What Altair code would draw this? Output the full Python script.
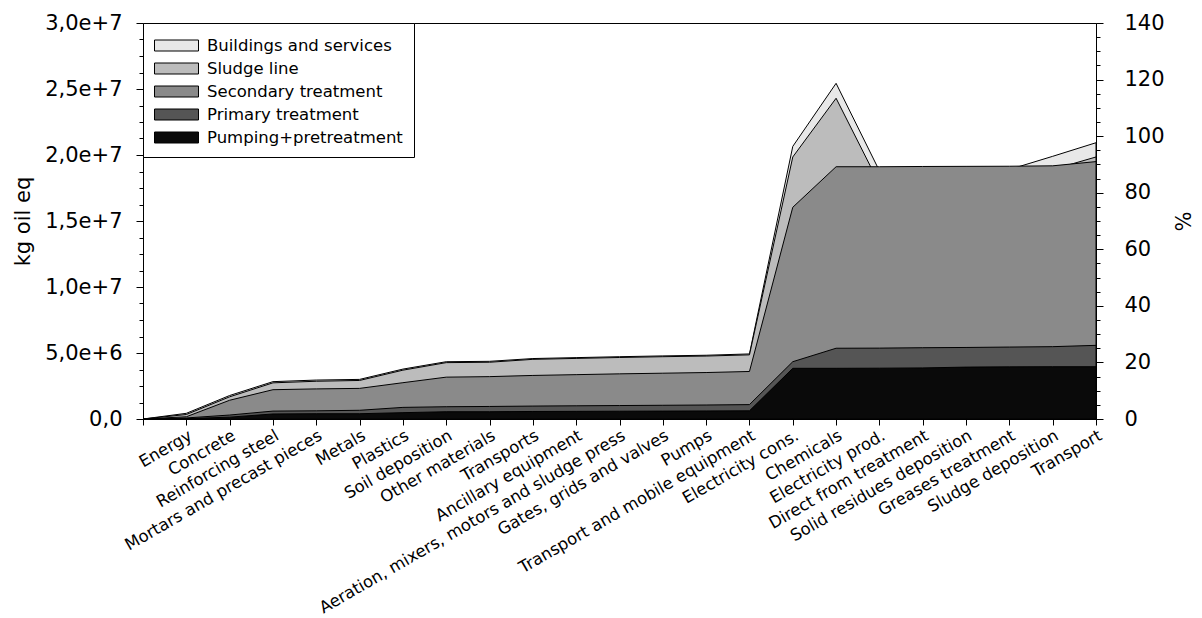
import json

import altair as alt
import pandas as pd

# Inventory categories along the x axis (position 0 is the origin of the cumulative curve)
categories = [
    "Energy", "Concrete", "Reinforcing steel", "Mortars and precast pieces", "Metals",
    "Plastics", "Soil deposition", "Other materials", "Transports", "Ancillary equipment",
    "Aeration, mixers, motors and sludge press", "Gates, grids and valves", "Pumps",
    "Transport and mobile equipment", "Electricity cons.", "Chemicals", "Electricity prod.",
    "Direct from treatment", "Solid residues deposition", "Greases treatment",
    "Sludge deposition", "Transport",
]

# Cumulative upper edge of each plant section (kg oil eq), origin first
buildings = [0, 4.3e5, 1.78e6, 2.83e6, 2.95e6, 3.00e6, 3.78e6, 4.34e6, 4.37e6, 4.58e6, 4.65e6,
             4.72e6, 4.78e6, 4.83e6, 4.93e6, 2.065e7, 2.543e7, 1.88e7, 1.88e7, 1.885e7, 1.89e7,
             1.99e7, 2.093e7]
sludge = [0, 3.4e5, 1.68e6, 2.74e6, 2.86e6, 2.92e6, 3.70e6, 4.27e6, 4.30e6, 4.52e6, 4.59e6,
          4.66e6, 4.72e6, 4.77e6, 4.86e6, 1.985e7, 2.43e7, 1.78e7, 1.78e7, 1.78e7, 1.78e7,
          1.89e7, 1.985e7]
secondary = [0, 1.7e5, 1.42e6, 2.22e6, 2.28e6, 2.32e6, 2.75e6, 3.17e6, 3.21e6, 3.30e6, 3.36e6,
             3.42e6, 3.47e6, 3.52e6, 3.60e6, 1.604e7, 1.911e7, 1.911e7, 1.913e7, 1.914e7,
             1.915e7, 1.918e7, 1.95e7]
primary = [0, 8e4, 3.0e5, 6.0e5, 6.2e5, 6.6e5, 8.8e5, 9.3e5, 9.5e5, 9.8e5, 1.00e6, 1.02e6,
           1.04e6, 1.06e6, 1.09e6, 4.34e6, 5.36e6, 5.37e6, 5.40e6, 5.42e6, 5.45e6, 5.48e6,
           5.58e6]
pumping = [0, 3e4, 1.4e5, 3.8e5, 4.0e5, 4.0e5, 4.8e5, 5.5e5, 5.5e5, 5.7e5, 5.8e5, 5.9e5,
           6.0e5, 6.1e5, 6.2e5, 3.84e6, 3.84e6, 3.85e6, 3.87e6, 3.93e6, 3.95e6, 3.96e6, 3.96e6]

series_names = ["Buildings and services", "Sludge line", "Secondary treatment",
                "Primary treatment", "Pumping+pretreatment"]
series_values = [buildings, sludge, secondary, primary, pumping]
fills = ["#e8e8e8", "#bcbcbc", "#8a8a8a", "#555555", "#0a0a0a"]

# Tick positions for the two value axes
left_ticks = [i * 1.25e6 for i in range(25)]
right_ticks = [i * 5 for i in range(29)]

x_labels = [""] + categories

rows = []
for name, vals in zip(series_names, series_values):
    for i, v in enumerate(vals):
        rows.append({"series": name, "pos": i, "top": v})
df = pd.DataFrame(rows)

FONT = "DejaVu Sans"

x_enc = alt.X(
    "pos:Q",
    scale=alt.Scale(domain=[0, len(categories)], nice=False, zero=False),
    axis=alt.Axis(
        title=None, values=list(range(len(x_labels))),
        labelExpr=f"{json.dumps(x_labels)}[datum.value]",
        labelAngle=330, labelAlign="right", labelBaseline="top",
        labelFontSize=16.5, labelPadding=2, tickSize=6, labelLimit=0,
        labelOverlap=False, labelFlush=False, labelBound=False, grid=False,
    ),
)

y_enc = alt.Y(
    "top:Q", stack=None,
    scale=alt.Scale(domain=[0, 3e7], nice=False, zero=True),
    axis=alt.Axis(
        title="kg oil eq", values=left_ticks,
        labelExpr="datum.value % 5000000 == 0 ? (datum.value == 0 ? '0,0' : "
                  "replace(format(datum.value, '.1e'), '.', ',')) : ''",
        tickSize={"condition": {"test": "datum.value % 5000000 == 0", "value": 7}, "value": 4},
        labelFontSize=21, labelPadding=14, titleFontSize=21, titlePadding=11,
        labelOverlap=False, labelFlush=False, grid=False,
    ),
)

color_enc = alt.Color(
    "series:N",
    scale=alt.Scale(domain=series_names, range=fills),
    legend=alt.Legend(
        title=None, orient="top-left", offset=0, padding=11,
        fillColor="white", strokeColor="black",
        symbolType="M-1,-0.5H3V0.5H-1Z", symbolSize=484,
        symbolStrokeColor="black", symbolStrokeWidth=1, symbolOpacity=1,
        labelFontSize=16.5, labelOffset=30, rowPadding=3, labelLimit=0,
    ),
)

base = alt.Chart(df)
areas = [
    base.transform_filter(alt.datum.series == name)
    .mark_area(stroke="black", strokeWidth=1, interpolate="linear", opacity=1)
    .encode(x=x_enc, y=y_enc, color=color_enc)
    for name in series_names
]

pct = alt.Chart(pd.DataFrame({"pct": right_ticks})).mark_point(opacity=0).encode(
    y=alt.Y(
        "pct:Q",
        scale=alt.Scale(domain=[0, 140], nice=False, zero=True),
        axis=alt.Axis(
            title="%", orient="right", values=right_ticks,
            labelExpr="datum.value % 20 == 0 ? datum.label : ''",
            tickSize={"condition": {"test": "datum.value % 20 == 0", "value": 7}, "value": 4},
            labelFontSize=21, labelPadding=21, titleFontSize=21, titlePadding=6,
            labelOverlap=False, labelFlush=False, grid=False,
        ),
    )
)

chart = (
    alt.layer(alt.layer(*areas), pct)
    .resolve_scale(y="independent")
    .properties(
        width=953, height=396,
        autosize=alt.AutoSizeParams(type="none"),
        padding={"left": 143, "top": 23, "right": 106, "bottom": 199},
        background="white",
    )
    .configure_view(stroke="black", strokeWidth=1)
    .configure_axis(
        labelFont=FONT, titleFont=FONT, labelColor="black", titleColor="black",
        titleFontWeight="normal", domainColor="black", tickColor="black",
        domainWidth=1, tickWidth=1,
    )
    .configure_legend(labelFont=FONT, labelColor="black")
)

chart.save("out.html", embed_options={"renderer": "svg", "actions": False})
